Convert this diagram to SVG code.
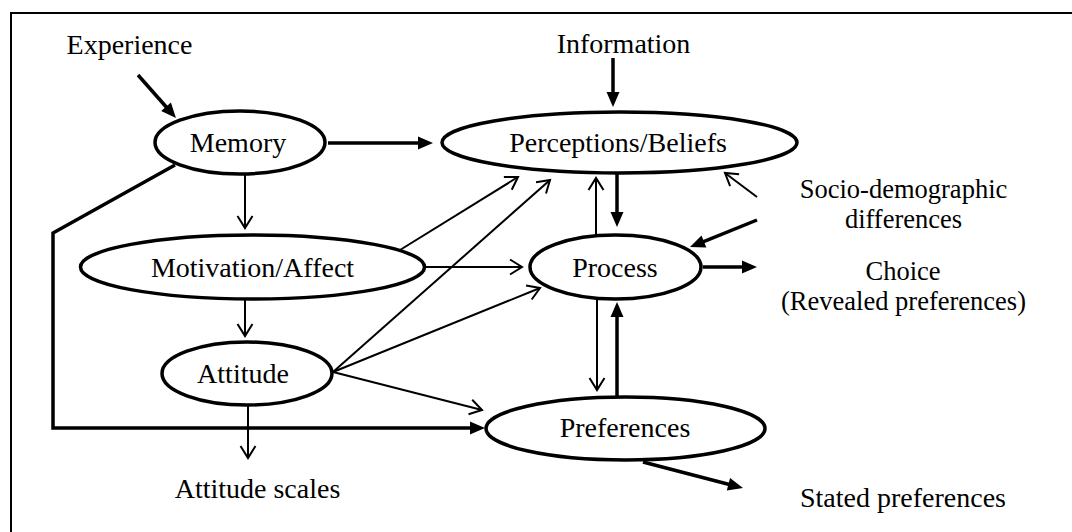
<svg xmlns="http://www.w3.org/2000/svg" width="1072" height="532" viewBox="0 0 1072 532">
<style>
text{font-family:"Liberation Serif","Times New Roman",serif;font-size:28px;fill:#000;text-anchor:middle}
text.two{font-size:26.5px}
.node ellipse{fill:#fff;stroke:#000;stroke-width:3.5}
.thin{stroke:#000;stroke-width:2;fill:none}
.thick{stroke:#000;stroke-width:3.5;fill:none}
.frame{stroke:#000;stroke-width:2;fill:none}
</style>
<defs>
<marker id="open" markerUnits="userSpaceOnUse" viewBox="-14 -9 16 18" markerWidth="16" markerHeight="18" refX="0" refY="0" orient="auto" overflow="visible">
<path d="M-12,-7.5 L0,0 L-12,7.5" fill="none" stroke="#000" stroke-width="2"/>
</marker>
<marker id="filled" markerUnits="userSpaceOnUse" viewBox="0 -7 15 14" markerWidth="15" markerHeight="14" refX="0" refY="0" orient="auto" overflow="visible">
<path d="M-1,-6.5 L14,0 L-1,6.5 Z" fill="#000"/>
</marker>
</defs>
<rect width="1072" height="532" fill="#fff"/>
<path class="frame" d="M11,532 L11,13 L1072,13"/>

<g id="connectors">
<line class="thick" x1="138" y1="75" x2="166.7" y2="107.5" marker-end="url(#filled)"/>
<line class="thick" x1="328" y1="143" x2="419" y2="143" marker-end="url(#filled)"/>
<line class="thick" x1="613" y1="58" x2="613" y2="93" marker-end="url(#filled)"/>
<line class="thick" x1="617" y1="173" x2="617" y2="213" marker-end="url(#filled)"/>
<line class="thick" x1="617" y1="397" x2="617" y2="316" marker-end="url(#filled)"/>
<line class="thick" x1="757" y1="220" x2="703" y2="241.8" marker-end="url(#filled)"/>
<line class="thick" x1="703" y1="267" x2="743" y2="267" marker-end="url(#filled)"/>
<polyline class="thick" points="175,165 53,233 53,428 471,428" marker-end="url(#filled)"/>
<line class="thick" x1="643" y1="462" x2="729.4" y2="484.5" marker-end="url(#filled)"/>

<line class="thin" x1="245" y1="174" x2="245" y2="228" marker-end="url(#open)"/>
<line class="thin" x1="245" y1="299" x2="245" y2="336" marker-end="url(#open)"/>
<line class="thin" x1="248" y1="405" x2="248" y2="458" marker-end="url(#open)"/>
<line class="thin" x1="425" y1="267" x2="522" y2="267" marker-end="url(#open)"/>
<line class="thin" x1="400" y1="250" x2="518" y2="177" marker-end="url(#open)"/>
<line class="thin" x1="333" y1="372" x2="550" y2="180" marker-end="url(#open)"/>
<line class="thin" x1="333" y1="372" x2="540" y2="288" marker-end="url(#open)"/>
<line class="thin" x1="333" y1="372" x2="482" y2="410" marker-end="url(#open)"/>
<line class="thin" x1="596" y1="235" x2="596" y2="178" marker-end="url(#open)"/>
<line class="thin" x1="597" y1="299" x2="597" y2="390" marker-end="url(#open)"/>
<line class="thin" x1="757" y1="197" x2="725" y2="173" marker-end="url(#open)"/>
</g>

<g id="memory" class="node"><ellipse cx="240" cy="142.5" rx="85" ry="31.5"/><text x="238" y="152">Memory</text></g>
<g id="perceptions" class="node"><ellipse cx="619.5" cy="142.5" rx="177.5" ry="30.5"/><text x="618" y="152">Perceptions/Beliefs</text></g>
<g id="motivation" class="node"><ellipse cx="252.5" cy="267" rx="172" ry="32"/><text x="252.5" y="277">Motivation/Affect</text></g>
<g id="process" class="node"><ellipse cx="615.5" cy="267" rx="85.5" ry="32"/><text x="615" y="277">Process</text></g>
<g id="attitude" class="node"><ellipse cx="247" cy="373.5" rx="85" ry="31.5"/><text x="243" y="383">Attitude</text></g>
<g id="preferences" class="node"><ellipse cx="625.5" cy="428.5" rx="139.5" ry="31.5"/><text x="625" y="437">Preferences</text></g>

<g id="experience"><text x="129.5" y="54">Experience</text></g>
<g id="information"><text x="623.5" y="53">Information</text></g>
<g id="socio"><text class="two" x="903.5" y="198">Socio-demographic</text><text class="two" x="903.5" y="228">differences</text></g>
<g id="choice"><text class="two" x="903" y="280">Choice</text><text class="two" x="903.5" y="310">(Revealed preferences)</text></g>
<g id="attitude-scales"><text x="257.5" y="498">Attitude scales</text></g>
<g id="stated"><text x="903" y="507">Stated preferences</text></g>
</svg>
